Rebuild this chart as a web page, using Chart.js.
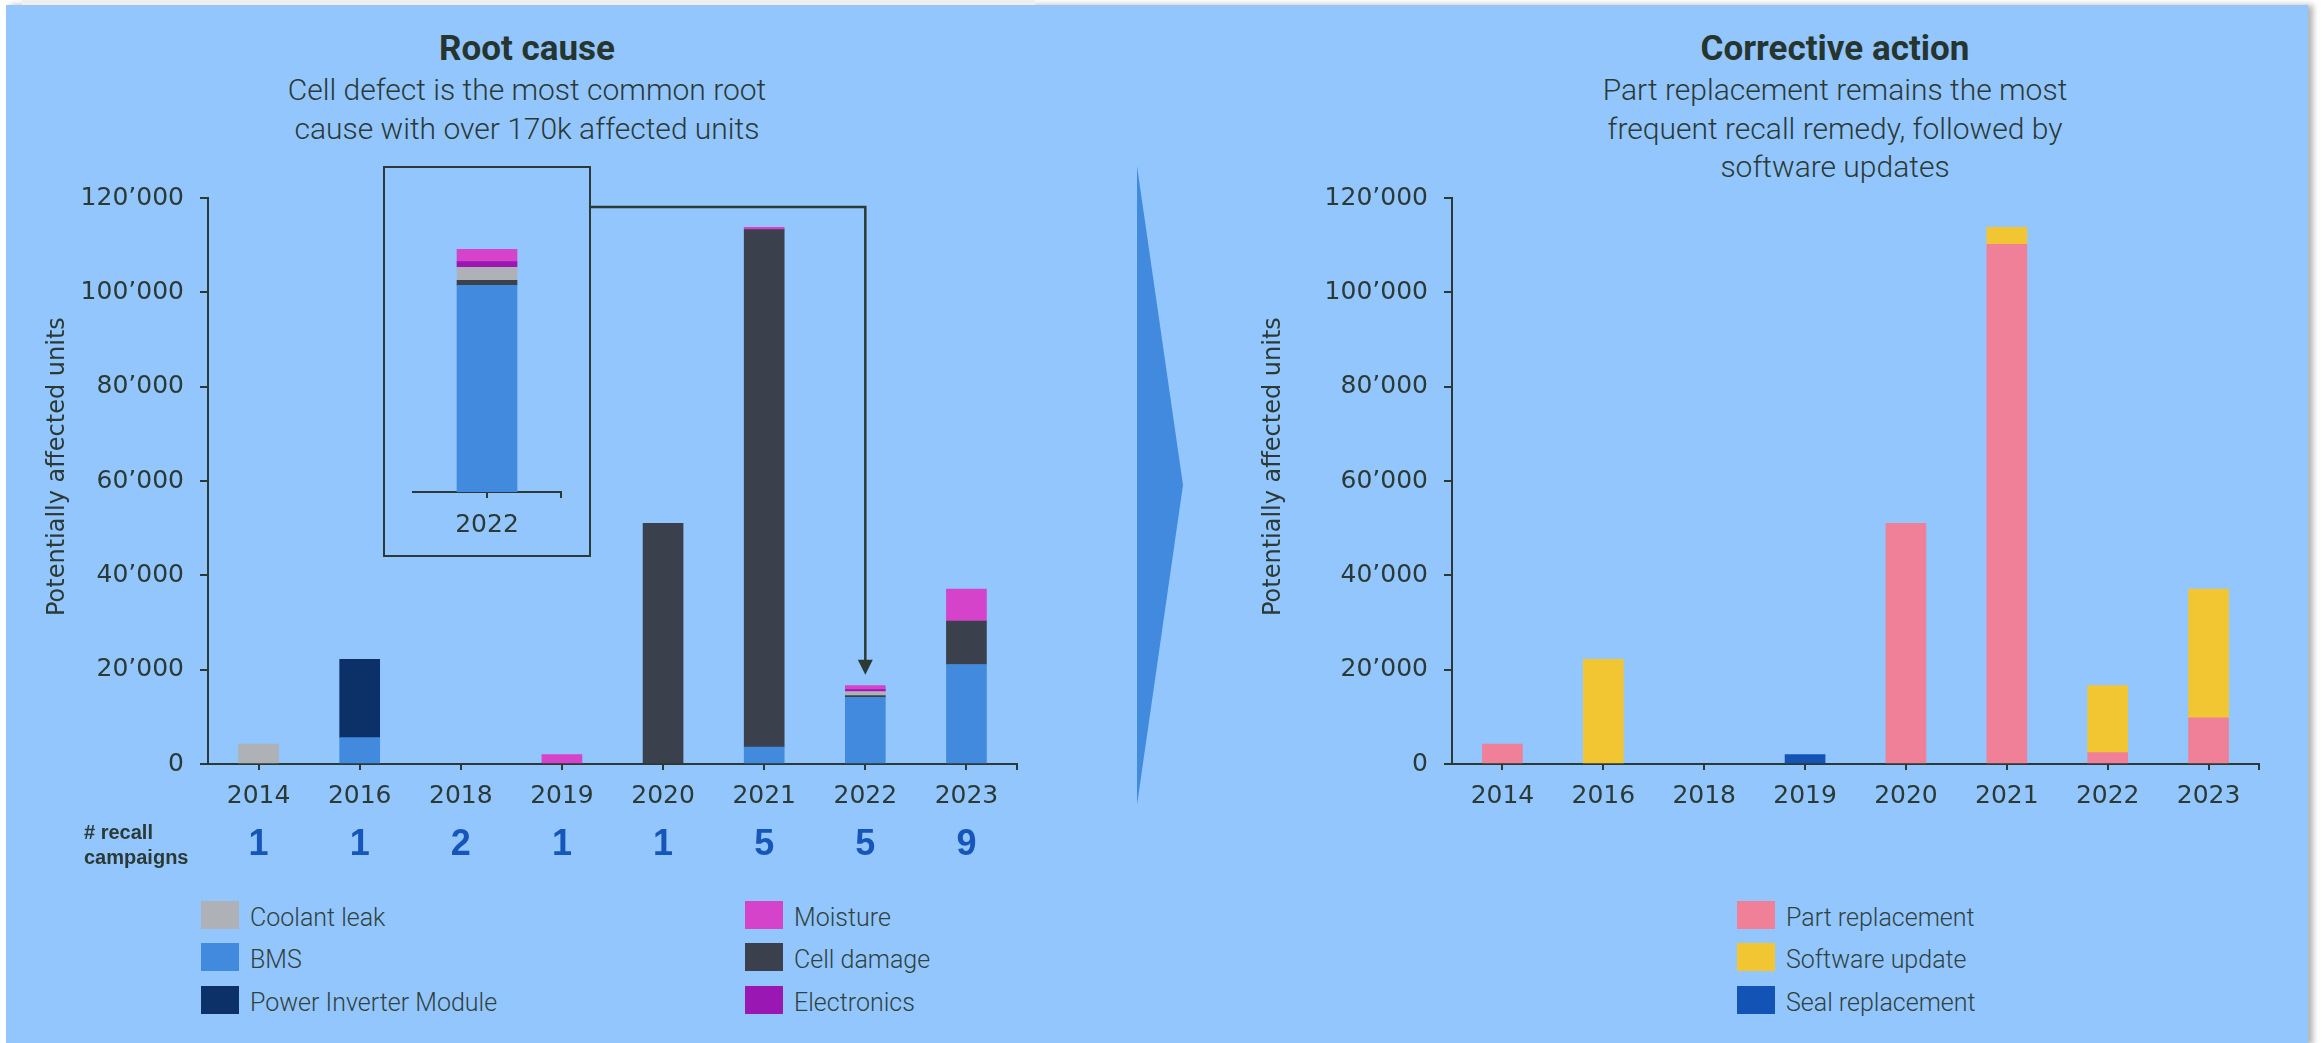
<!DOCTYPE html>
<html>
<head>
<meta charset="utf-8">
<title>Battery recalls</title>
<script src="https://cdn.jsdelivr.net/npm/chart.js@4.4.1/dist/chart.umd.min.js"></script>
<style>
  body { margin:0; width:2323px; height:1043px; position:relative; overflow:hidden; background:#fff;
         font-family: Roboto, "Liberation Sans", sans-serif; color:#2b3a36; }
  .abs { position:absolute; }
  #panel { left:6px; top:5px; width:2302px; height:1040px; background:#93c6fd; box-shadow:5px 0 6px rgba(0,0,0,0.3); }
  #strip { left:22px; top:0; width:1013px; height:5px; background:#efefef; }
  .title { font-weight:700; font-size:35px; line-height:40px; transform:translateX(-50%); white-space:nowrap; text-align:center; color:#26352f; }
  .sub { font-weight:300; font-size:30px; line-height:38.5px; transform:translateX(-50%); white-space:nowrap; text-align:center; }
  canvas { position:absolute; }
  .item { position:absolute; height:28px; display:flex; align-items:center; white-space:nowrap; font-weight:300; font-size:25px; color:#2f423f; }
  .item span { position:relative; top:2px; }
  .sw { width:38px; height:28px; margin-right:11px; flex:none; }
  #inset { left:383px; top:166px; width:204px; height:387px; border:2px solid #2b3a36; }
</style>
</head>
<body>
<div id="panel" class="abs"></div>
<div id="strip" class="abs"></div>

<div class="abs title" style="left:527px; top:29px;">Root cause</div>
<div class="abs sub" style="left:527px; top:71px;">Cell defect is the most common root<br>cause with over 170k affected units</div>

<div class="abs title" style="left:1835px; top:29px;">Corrective action</div>
<div class="abs sub" style="left:1835px; top:71px;">Part replacement remains the most<br>frequent recall remedy, followed by<br>software updates</div>

<svg class="abs" style="left:0; top:0;" width="2323" height="1043">
  <polygon points="1137,166 1183,485 1137,805" fill="#428ade"/>
</svg>

<canvas id="rootChart" width="1040" height="700" style="left:0; top:180px;"></canvas>
<div id="inset" class="abs"></div>
<canvas id="insetChart" width="190" height="350" style="left:395px; top:200px;"></canvas>
<canvas id="actionChart" width="1060" height="700" style="left:1240px; top:180px;"></canvas>

<div id="rootLegend"></div>
<div id="actionLegend"></div>

<script>
const INK = '#2b3a36';

const years = ['2014', '2016', '2018', '2019', '2020', '2021', '2022', '2023'];
const recallCampaigns = [1, 1, 2, 1, 1, 5, 5, 9];
const yMax = 120000;
const yStep = 20000;

// root cause, listed in stacking order (axis upwards)
const bms           = [0,    5600,  0, 0,    0,     3600,   14150, 21100];
const cellDamage    = [0,    0,     0, 0,    51000, 109700, 340,   9200];
const powerInverter = [0,    16600, 0, 0,    0,     0,      0,     0];
const coolantLeak   = [4200, 0,     0, 0,    0,     0,      890,   0];
const electronics   = [0,    0,     0, 0,    0,     0,      390,   0];
const moisture      = [0,    0,     0, 2000, 0,     500,    840,   6800];

// corrective action
const partReplacement = [4200, 0,     0, 0,    51000, 110200, 2400,  9800];
const softwareUpdate  = [0,    22200, 0, 0,    0,     3600,   14200, 27300];
const sealReplacement = [0,    0,     0, 2000, 0,     0,      0,     0];

const rootSeries = [
  { name: 'BMS', data: bms, color: '#428ade' },
  { name: 'Cell damage', data: cellDamage, color: '#3b404d' },
  { name: 'Power Inverter Module', data: powerInverter, color: '#0c3068' },
  { name: 'Coolant leak', data: coolantLeak, color: '#aeb2b6' },
  { name: 'Electronics', data: electronics, color: '#9a17b4' },
  { name: 'Moisture', data: moisture, color: '#d443c9' }
];
const actionSeries = [
  { name: 'Part replacement', data: partReplacement, color: '#ef8098' },
  { name: 'Software update', data: softwareUpdate, color: '#f2c632' },
  { name: 'Seal replacement', data: sealReplacement, color: '#1453b6' }
];

const zoomYear = '2022';
const zoomIdx = years.indexOf(zoomYear);

const fmt = v => String(v).replace(/\B(?=(\d{3})+(?!\d))/g, '\u2019');
const tickFont = { family: '"DejaVu Sans", sans-serif', size: 25 };
// leading spaces nudge the rotated axis title a little upwards
const yTitle = '\u2002\u2002\u2009Potentially affected units';

// small closing tick at the right end of the category axis
const endTick = {
  id: 'endTick',
  afterDraw(chart) {
    const { ctx, chartArea } = chart;
    ctx.save();
    ctx.strokeStyle = INK;
    ctx.lineWidth = 2;
    ctx.beginPath();
    ctx.moveTo(chartArea.right, chartArea.bottom);
    ctx.lineTo(chartArea.right, chartArea.bottom + 6);
    ctx.stroke();
    ctx.restore();
  }
};

// recall counts under the years + the pointer from the zoom box to its bar
const rootExtras = {
  id: 'rootExtras',
  afterDraw(chart) {
    const { ctx, chartArea, scales: { x, y } } = chart;
    const canvasEl = chart.canvas;
    ctx.save();

    ctx.fillStyle = INK;
    ctx.font = 'bold 20px "Liberation Sans", sans-serif';
    ctx.textAlign = 'left';
    ctx.textBaseline = 'middle';
    ctx.fillText('# recall', 84, chartArea.bottom + 69);
    ctx.fillText('campaigns', 84, chartArea.bottom + 94);

    ctx.fillStyle = '#1756b9';
    ctx.font = 'bold 36px "Liberation Sans", sans-serif';
    ctx.textAlign = 'center';
    recallCampaigns.forEach((n, i) => {
      ctx.fillText(String(n), x.getPixelForValue(i), chartArea.bottom + 81);
    });

    const box = document.getElementById('inset');
    const startX = box.offsetLeft + box.offsetWidth - canvasEl.offsetLeft;
    const lineY = box.offsetTop + 41 - canvasEl.offsetTop;
    const total = rootSeries.reduce((s, d) => s + d.data[zoomIdx], 0);
    const px = x.getPixelForValue(zoomIdx);
    const tipY = y.getPixelForValue(total) - 11;
    ctx.strokeStyle = INK;
    ctx.fillStyle = INK;
    ctx.lineWidth = 2.5;
    ctx.beginPath();
    ctx.moveTo(startX, lineY);
    ctx.lineTo(px, lineY);
    ctx.lineTo(px, tipY - 14);
    ctx.stroke();
    ctx.beginPath();
    ctx.moveTo(px, tipY);
    ctx.lineTo(px - 7.5, tipY - 15);
    ctx.lineTo(px + 7.5, tipY - 15);
    ctx.closePath();
    ctx.fill();
    ctx.restore();
  }
};

function xAxis(height, pad) {
  return {
    stacked: true,
    offset: true,
    grid: { display: true, offset: false, drawOnChartArea: false, drawTicks: true, tickLength: 6, color: INK, lineWidth: 2 },
    border: { display: true, color: INK, width: 2 },
    ticks: { color: INK, font: tickFont, padding: pad, maxRotation: 0, autoSkip: false },
    afterFit(s) { s.height = height; }
  };
}

function mainOptions(padLeft, axisLeft, padRight) {
  return {
    responsive: false,
    animation: false,
    devicePixelRatio: 1,
    layout: { padding: { left: padLeft, right: padRight, top: 18, bottom: 60 } },
    plugins: { legend: { display: false }, tooltip: { enabled: false } },
    scales: {
      x: xAxis(56, 11),
      y: {
        stacked: true,
        min: 0,
        max: yMax,
        ticks: { stepSize: yStep, color: INK, font: tickFont, padding: 16, callback: v => fmt(v) },
        grid: { drawOnChartArea: false, drawTicks: true, tickLength: 8, color: INK, lineWidth: 2 },
        border: { display: true, color: INK, width: 2 },
        title: { display: true, text: yTitle, color: INK,
                 font: { family: '"DejaVu Sans", sans-serif', size: 24 }, padding: 0 },
        afterFit(s) {
          s.width = axisLeft - padLeft;
          s.paddingTop = 0;
          s.paddingBottom = 0;
        }
      }
    }
  };
}

// empty segments are left out instead of drawn at zero height
const toDatasets = (series, pick, thickness) => series.map(s => ({
  label: s.name,
  data: pick(s.data).map(v => (v === 0 ? null : v)),
  backgroundColor: s.color,
  barThickness: thickness
}));

new Chart(document.getElementById('rootChart'), {
  type: 'bar',
  data: { labels: years, datasets: toDatasets(rootSeries, d => d, 40) },
  options: mainOptions(43, 208, 23),
  plugins: [endTick, rootExtras]
});

new Chart(document.getElementById('actionChart'), {
  type: 'bar',
  data: { labels: years, datasets: toDatasets(actionSeries, d => d, 40) },
  options: mainOptions(19, 212, 41),
  plugins: [endTick]
});

// close-up of the small 2022 stack
new Chart(document.getElementById('insetChart'), {
  type: 'bar',
  data: { labels: [zoomYear], datasets: toDatasets(rootSeries, d => [d[zoomIdx]], 60) },
  options: {
    responsive: false,
    animation: false,
    devicePixelRatio: 1,
    layout: { padding: { left: 18, right: 24, top: 29, bottom: 0 } },
    plugins: { legend: { display: false }, tooltip: { enabled: false } },
    scales: {
      x: xAxis(58, 12),
      y: { display: false, stacked: true, min: 0, max: 18000 }
    }
  },
  plugins: [endTick]
});

// legends
function legendItem(parent, s, left, top) {
  const el = document.createElement('div');
  el.className = 'item';
  el.style.left = left + 'px';
  el.style.top = top + 'px';
  el.innerHTML = '<div class="sw" style="background:' + s.color + '"></div><span>' + s.name + '</span>';
  parent.appendChild(el);
}
const byName = (list, name) => list.find(s => s.name === name);
const rows = [901, 943, 986];
const rootCols = [
  ['Coolant leak', 'BMS', 'Power Inverter Module'],
  ['Moisture', 'Cell damage', 'Electronics']
];
const rootLeg = document.getElementById('rootLegend');
rootCols.forEach((col, c) => col.forEach((name, r) => legendItem(rootLeg, byName(rootSeries, name), c ? 745 : 201, rows[r])));
const actLeg = document.getElementById('actionLegend');
actionSeries.forEach((s, r) => legendItem(actLeg, s, 1737, rows[r]));
</script>
</body>
</html>
